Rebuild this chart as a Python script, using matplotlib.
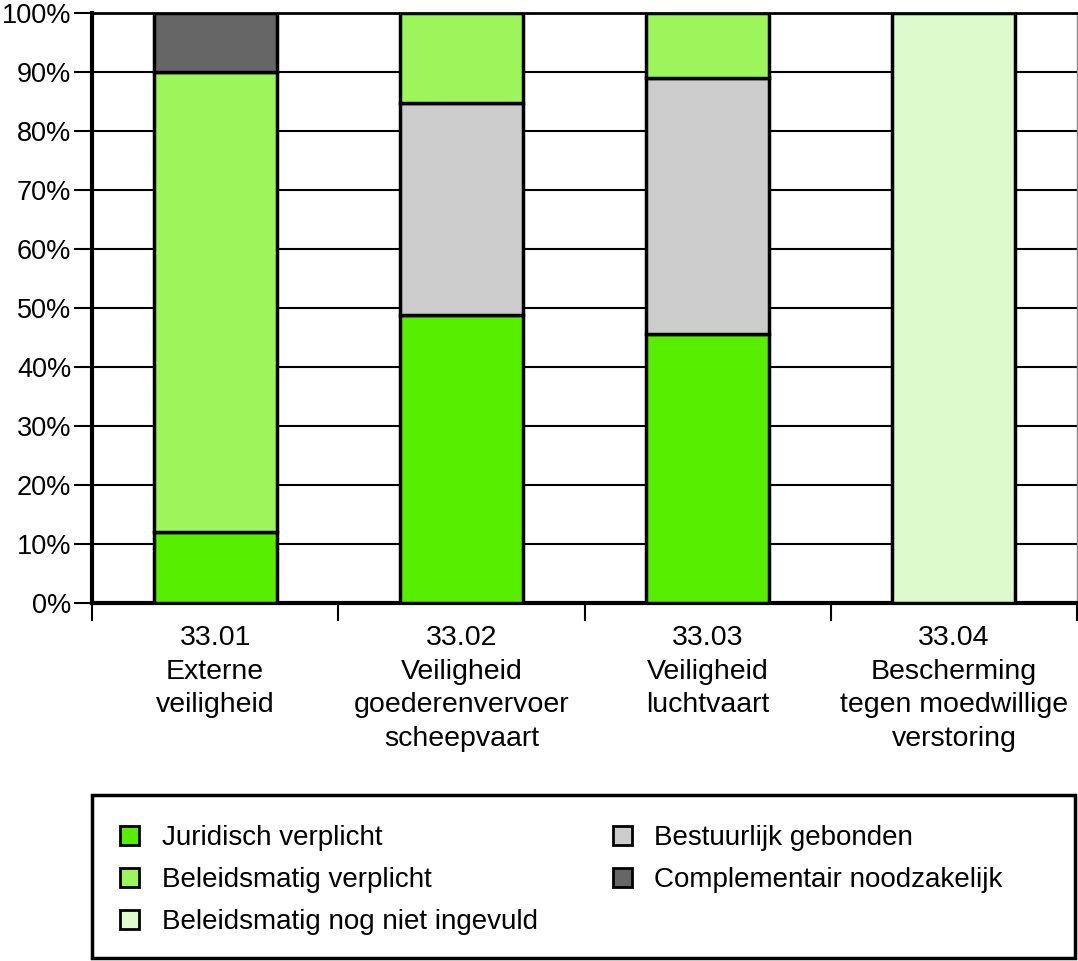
import matplotlib
matplotlib.use("Agg")
import matplotlib.pyplot as plt
from matplotlib.patches import Rectangle, Patch
import numpy as np

plt.rcParams["font.family"] = ["Liberation Sans", "DejaVu Sans"]

categories = [
    "33.01\nExterne\nveiligheid",
    "33.02\nVeiligheid\ngoederenvervoer\nscheepvaart",
    "33.03\nVeiligheid\nluchtvaart",
    "33.04\nBescherming\ntegen moedwillige\nverstoring",
]
series_names = [
    "Juridisch verplicht",
    "Bestuurlijk gebonden",
    "Beleidsmatig verplicht",
    "Complementair noodzakelijk",
    "Beleidsmatig nog niet ingevuld",
]
juridisch = [12.0, 48.8, 45.6, 0.0]
bestuurlijk = [0.0, 35.9, 43.4, 0.0]
beleidsmatig = [78.0, 15.3, 11.0, 0.0]
complementair = [10.0, 0.0, 0.0, 0.0]
nog_niet = [0.0, 0.0, 0.0, 100.0]
colors = ["#57ee00", "#cccccc", "#9cf55a", "#666666", "#ddfacc"]

W, H = 1078, 961
fig = plt.figure(figsize=(W / 100, H / 100), dpi=100)
ax = fig.add_axes([92 / W, (H - 603) / H, 985 / W, 590 / H])

x = np.arange(len(categories))
bottom = np.zeros(len(categories))
handles = {}
for name, vals, col in zip(series_names,
                           [juridisch, bestuurlijk, beleidsmatig, complementair, nog_niet],
                           colors):
    vals = np.array(vals)
    bars = ax.bar(x, vals, width=0.5, bottom=bottom, color=col,
                  edgecolor="black", linewidth=2.5, zorder=3)
    for b, v in zip(bars, vals):
        if v == 0:
            b.set_visible(False)
    bottom += vals
    handles[name] = Patch(facecolor=col, edgecolor="black", linewidth=2)

ax.set_xlim(-0.5, len(categories) - 0.5)
ax.set_ylim(0, 100)
ax.set_yticks(np.arange(0, 101, 10))
ax.set_yticklabels([f"{v}%" for v in range(0, 101, 10)], fontsize=19.5)
ax.yaxis.grid(True, color="black", linewidth=1.5, zorder=0)
ax.set_axisbelow(True)
ax.tick_params(axis="y", length=13, width=1.5, pad=2)

ax.set_xticks(x)
ax.set_xticklabels(categories, fontsize=20.5, linespacing=1.38)
ax.tick_params(axis="x", which="major", length=0, pad=16)
ax.set_xticks(np.arange(-0.5, len(categories)), minor=True)
ax.tick_params(axis="x", which="minor", length=13, width=1.5)

for side in ["left", "bottom"]:
    ax.spines[side].set_linewidth(3)
ax.spines["top"].set_linewidth(2)
ax.spines["right"].set_linewidth(1)
ax.spines["right"].set_color("#888888")

# legend box
fig.patches.append(Rectangle((92 / W, 3 / H), 983 / W, 163 / H,
                             transform=fig.transFigure, fill=False,
                             edgecolor="black", linewidth=2.5))
order = ["Juridisch verplicht", "Beleidsmatig verplicht",
         "Beleidsmatig nog niet ingevuld", "Bestuurlijk gebonden",
         "Complementair noodzakelijk"]
fig.legend([handles[n] for n in order], order, ncol=2, frameon=False,
           loc="upper left", bbox_to_anchor=(95 / W, (H - 800) / H),
           fontsize=20, handlelength=0.7, handleheight=0.7,
           handletextpad=0.8, labelspacing=0.58, columnspacing=2.7)

fig.savefig("out.png", dpi=100)
